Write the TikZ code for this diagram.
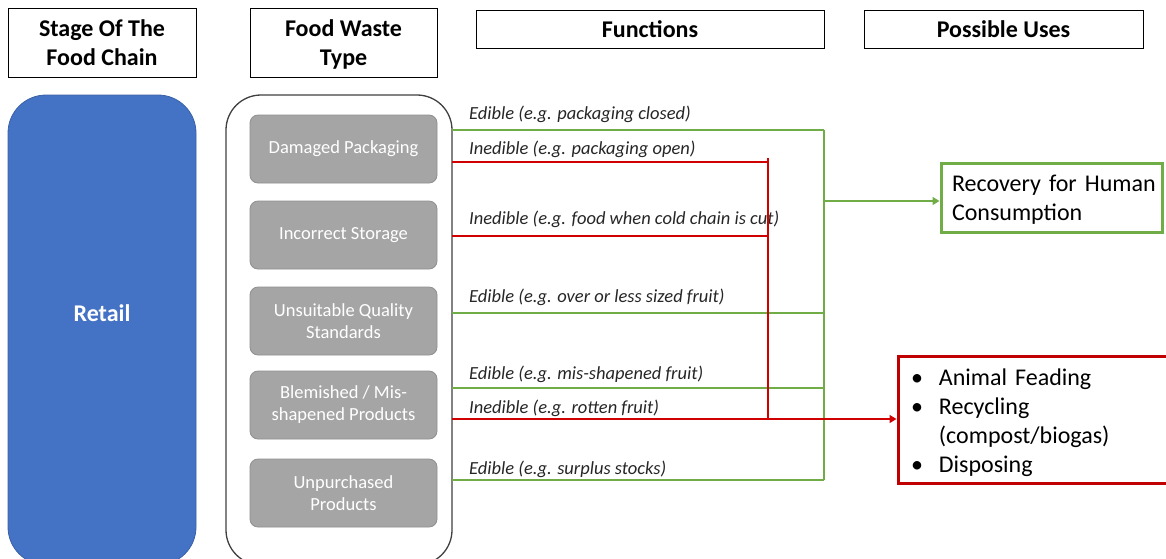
\documentclass[tikz,border=0pt]{standalone}
\usepackage{fontspec}
\setmainfont{Carlito}
\usetikzlibrary{arrows.meta}
\definecolor{retailblue}{HTML}{4472C4}
\definecolor{wastegrey}{HTML}{A5A5A5}
\definecolor{wasteedge}{HTML}{8F8F8F}
\definecolor{okgreen}{HTML}{70AD47}
\definecolor{badred}{HTML}{C00000}
\definecolor{redline}{HTML}{D00000}
\definecolor{lbl}{HTML}{262626}
\definecolor{frame}{HTML}{404040}
\begin{document}
\begin{tikzpicture}[x=1pt,y=-1pt,
  header/.style={draw=black,line width=1pt,align=center,inner sep=0pt,text depth=0pt,
    font=\fontsize{24}{29}\selectfont\bfseries},
  wastebox/.style={draw=wasteedge,fill=wastegrey,rounded corners=8pt,line width=0.8pt,
    minimum width=187pt,minimum height=68pt,inner sep=0pt,align=center,text=white,
    font=\fontsize{18.5}{22}\selectfont},
  fn/.style={anchor=base west,inner sep=0pt,text=lbl,font=\fontsize{18.5}{22}\selectfont\itshape},
  gline/.style={draw=okgreen,line width=1.5pt},
  rline/.style={draw=redline,line width=1.5pt},
  arrowtip/.style={-{Triangle[length=7pt,width=8pt]}},
  usebox/.style={line width=3pt,inner ysep=0pt,font=\fontsize{24}{29}\selectfont,text=black}
]
\useasboundingbox (0,0) rectangle (1166,558);

% column headers
\node[header,minimum width=188pt,minimum height=69pt] (hstage) at (102,42.5) {Stage Of The\\Food Chain};
\node[header,minimum width=187pt,minimum height=69pt] (htype) at (343.5,42.5) {Food Waste\\Type};
\node[header,minimum width=348pt,minimum height=38pt] (hfunc) at (650,29) {Functions};
\node[header,minimum width=279pt,minimum height=38pt] (huses) at (1003.5,29) {Possible Uses};

% stage of the food chain
\node[fill=retailblue,draw=retailblue!85!black,line width=0.8pt,rounded corners=38pt,
  minimum width=188pt,minimum height=470pt,inner sep=0pt] (retail) at (102,330) {};
\node[text=white,font=\fontsize{24}{29}\selectfont\bfseries,inner sep=0pt] (retailname) at (102,313) {Retail};

% food waste types
\node[draw=frame,line width=1.3pt,rounded corners=35pt,fill=white,
  minimum width=226pt,minimum height=470pt,inner sep=0pt] (cont) at (339,330) {};
\node[wastebox] (w1) at (343.5,149) {Damaged Packaging};
\node[wastebox] (w2) at (343.5,235) {Incorrect Storage};
\node[wastebox] (w3) at (343.5,321) {Unsuitable Quality\\Standards};
\node[wastebox] (w4) at (343.5,405) {Blemished / Mis-\\shapened Products};
\node[wastebox] (w5) at (343.5,493) {Unpurchased\\Products};

% possible uses
\node[usebox,draw=okgreen,minimum width=221pt,minimum height=69pt,inner xsep=11pt,
  text width=199pt,align=left] (rec) at (1051.5,197.5)
  {\raisebox{-3pt}[\height][\depth]{\begin{tabular}{@{}l@{}}Recovery for Human\\Consumption\end{tabular}}};
\node[usebox,draw=badred,minimum width=272pt,minimum height=127pt,inner xsep=13pt,
  text width=246pt] (other) at (1034,419.5)
  {\noindent\raisebox{-3.5pt}[\height][\depth]{\begin{tabular}{@{}l@{\hspace{16pt}}l@{}}
   \textbullet & Animal Feading\\
   \textbullet & Recycling\\
               & (compost/biogas)\\
   \textbullet & Disposing
   \end{tabular}}};

% starting points on the waste-type frame
\coordinate (s1) at (452,130);
\coordinate (s2) at (452,162);
\coordinate (s3) at (452,236);
\coordinate (s4) at (452,313);
\coordinate (s5) at (452,388);
\coordinate (s6) at (452,419);
\coordinate (s7) at (452,480);
% collecting buses
\coordinate (gtop) at (824,130);
\coordinate (gmid) at (824,201);
\coordinate (gbot) at (824,480);
\coordinate (rtop) at (768,158);
\coordinate (rbot) at (768,419);

% function labels
\node[fn] (f1) at (469,119) {Edible (e.g. packaging closed)};
\node[fn] (f2) at (469,154) {Inedible (e.g. packaging open)};
\node[fn] (f3) at (469,224) {Inedible (e.g. food when cold chain is cut)};
\node[fn] (f4) at (469,302) {Edible (e.g. over or less sized fruit)};
\node[fn] (f5) at (469,379) {Edible (e.g. mis-shapened fruit)};
\node[fn] (f6) at (469,413) {Inedible (e.g. rotten fruit)};
\node[fn] (f7) at (469,474) {Edible (e.g. surplus stocks)};

% edible paths
\draw[gline] (s1) -- (s1 -| gtop);
\draw[gline] (s4) -- (s4 -| gtop);
\draw[gline] (s5) -- (s5 -| gtop);
\draw[gline] (s7) -- (s7 -| gtop);
\draw[gline] (gtop) -- (gbot);
\draw[gline,arrowtip] (gmid) -- (gmid -| rec.west);

% inedible paths
\draw[rline] (s2) -- (s2 -| rtop);
\draw[rline] (s3) -- (s3 -| rtop);
\draw[rline] (s6) -- (rbot);
\draw[rline] (rtop) -- (rbot);
\draw[rline,arrowtip] (rbot) -- (rbot -| other.west);
\end{tikzpicture}
\end{document}
